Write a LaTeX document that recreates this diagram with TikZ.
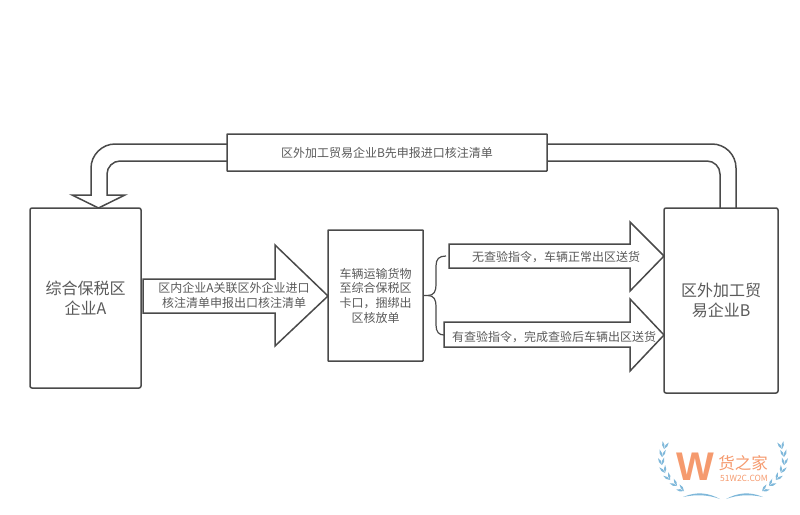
\documentclass[tikz,border=0pt]{standalone}
\usepackage{fontspec}
\setmainfont{Noto Sans CJK SC}
\newfontfamily\latinfont{Liberation Sans}
\usetikzlibrary{calc}

\definecolor{linegray}{HTML}{4A4A4A}
\definecolor{textgray}{HTML}{5A5A5A}
\definecolor{logoorange}{HTML}{F59A6E}
\definecolor{logoblue}{HTML}{7FB8DA}

\tikzset{
    outline/.style={draw=linegray,line width=1.5pt,fill=white},
    bigbox/.style={outline,rounded corners=2pt,outer sep=0pt,inner sep=0pt,align=center,text=textgray,
        font=\fontsize{16}{19.5}\selectfont},
    smallbox/.style={outline,rounded corners=0.5pt,outer sep=0pt,inner sep=0pt,align=center,text=textgray,
        font=\fontsize{12}{14.7}\selectfont},
    arrowlabel/.style={inner sep=0pt,align=center,text=textgray,font=\fontsize{12}{15}\selectfont},
    leaf/.style={fill=logoblue}
}

\begin{document}
\begin{tikzpicture}[x=1pt,y=-1pt]
        \useasboundingbox (0,0) rectangle (800,514);

        % Boxes
        \node[bigbox,minimum width=111pt,minimum height=180pt] (boxA) at (85.5,298) {综合保税区\\企业A};
        \node[bigbox,minimum width=114pt,minimum height=185pt] (boxB) at (721,300.5) {区外加工贸\\易企业B};
        \coordinate (tipone) at (328,296);
        \coordinate (tiptwo) at (664,256);
        \coordinate (tipthree) at (664,335);

        % Bent arrow from B back to A
        \draw[outline,fill=none] (547,144) [rounded corners=24pt] -- (736,144) -- (boxB.north -| 736,0);
        \draw[outline,fill=none] (547,161) [rounded corners=13pt] -- (720,161) -- (boxB.north -| 720,0);
        \draw[outline] (227,144) -- (115,144) .. controls (102,144) and (91,155) .. (91,168) -- (91,195)
            -- (72,195) -- (boxA.north -| 98.5,0) -- (125,195) -- (107,195) -- (107,174)
            .. controls (107,167) and (113,161) .. (120,161) -- (227,161);

        % Block arrows
        \draw[outline] (143,279) -- (275,279) -- (275,245) -- (tipone) -- (275,346) -- (275,313) -- (143,313) -- cycle;
        \draw[outline] (449,244) -- (630,244) -- (630,222) -- (tiptwo) -- (630,291) -- (630,268) -- (449,268) -- cycle;
        \draw[outline] (444,322) -- (630,322) -- (630,299) -- (tipthree) -- (630,371) -- (630,347) -- (444,347) -- cycle;

        % Top and middle boxes
        \node[smallbox,minimum width=320pt,minimum height=37pt] (topbox) at (387,152.5) {区外加工贸易企业B先申报进口核注清单};
        \node[smallbox,minimum width=95pt,minimum height=131pt] (midbox) at (375.5,295.5) {车辆运输货物\\至综合保税区\\卡口，捆绑出\\区核放单};

        % Arrow labels
        \node[arrowlabel] (labelone) at (234,295.5) {区内企业A关联区外企业进口\\核注清单申报出口核注清单};
        \node[arrowlabel] (labeltwo) at (556,257) {无查验指令，车辆正常出区送货};
        \node[arrowlabel] (labelthree) at (554,337) {有查验指令，完成查验后车辆出区送货};

        % Brace
        \coordinate (braceup) at (446,256);
        \coordinate (bracedown) at (444,335);
        \draw[draw=linegray,line width=1.2pt] (midbox.east) -- (428,295.5) .. controls (434,295.5) and (436,291) .. (436,285)
            -- (436,266) .. controls (436,259) and (439,256) .. (braceup);
        \draw[draw=linegray,line width=1.2pt] (428,295.5) .. controls (434,295.5) and (436,300) .. (436,306)
            -- (436,325) .. controls (436,332) and (439,335) .. (bracedown);

        % Watermark
        \node[inner sep=0pt,text=logoorange] (logoW) at (695,467) {\latinfont\bfseries\fontsize{40}{40}\selectfont W};
        \node[inner sep=0pt,text=logoorange] (logoname) at (743,463) {\fontsize{16.5}{16}\selectfont 货之家};
        \node[inner sep=0pt,text=logoorange] (logosite) at (744,478) {\fontsize{8.5}{8}\selectfont 51W2C.COM};

        % Laurels
        \foreach \side in {1,-1}
        {
            \begin{scope}[shift={(723,0)},xscale=\side]
                \foreach \x/\y/\a in {-59/449/80,-61/457/88,-61/465/100,-58/473/115,-53/480/128,-46/486/140,-39/491/150}
                {
                    \fill[leaf] (\x,\y) to[bend left=30] ++(\a+20:8pt) to[bend left=30] (\x,\y);
                    \fill[leaf] (\x,\y) to[bend left=30] ++(\a-26:8pt) to[bend left=30] (\x,\y);
                }
                \fill[leaf] (-40,497) .. controls (-26,491) and (-14,493) .. (-3,499) .. controls (-14,495) and (-26,494) .. (-40,497);
            \end{scope}
        }
    \end{tikzpicture}
\end{document}
